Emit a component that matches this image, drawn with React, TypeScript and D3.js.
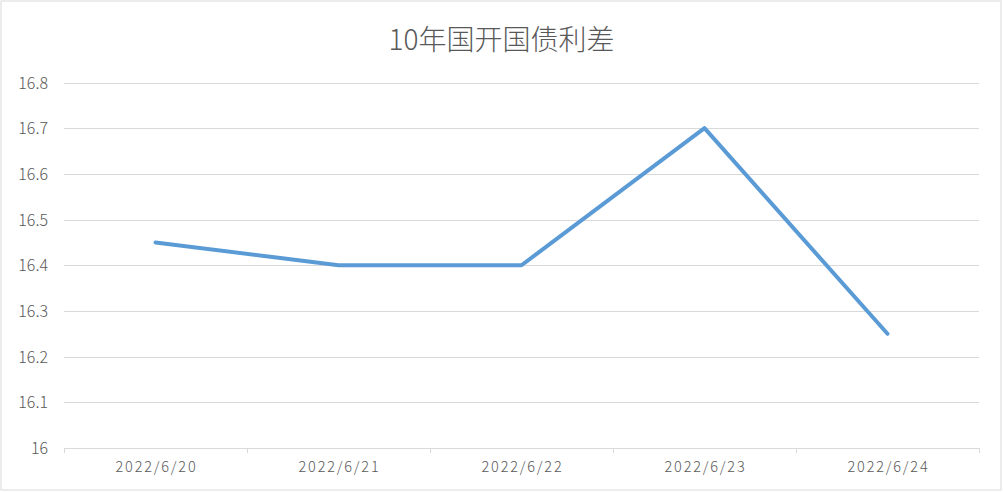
import React from "react";
import * as d3 from "d3";

const categories = ["2022/6/20", "2022/6/21", "2022/6/22", "2022/6/23", "2022/6/24"];
const values = [16.45, 16.4, 16.4, 16.7, 16.25];
const yTicks = [16, 16.1, 16.2, 16.3, 16.4, 16.5, 16.6, 16.7, 16.8];
const title = "10年国开国债利差";

const W = 1003;
const H = 492;
const left = 64;
const right = 979;
const top = 82.5;
const bottom = 448;
const font = "'Noto Sans CJK SC', 'Noto Sans', sans-serif";

export default function App() {
  const x = d3.scaleBand<string>().domain(categories).range([left, right]).padding(0);
  const y = d3.scaleLinear().domain([16, 16.8]).range([bottom, top]);
  const line = d3
    .line<number>()
    .x((_, i) => (x(categories[i]) as number) + x.bandwidth() / 2)
    .y((d) => y(d));
  const boundaries = [...categories.map((c) => x(c) as number), right];
  return (
    <svg width={W} height={H} style={{ position: "absolute", left: 0, top: 0 }}>
      <rect x={0} y={0} width={W} height={H} fill="#fff" />
      <rect x={1} y={1} width={W - 3} height={H - 3} fill="none" stroke="#d9d9d9" strokeWidth={1} />
      <text x={W / 2} y={50} textAnchor="middle" fontSize={28} fontWeight={300} fill="#595959" fontFamily={font}>
        {title}
      </text>
      {yTicks.map((t) => (
        <g key={t}>
          {t !== 16 && (
            <line x1={left} x2={right} y1={Math.round(y(t)) + 0.5} y2={Math.round(y(t)) + 0.5} stroke="#d9d9d9" strokeWidth={1} />
          )}
          <text x={48} y={y(t) + 6} textAnchor="end" fontSize={16} fontWeight={300} fill="#595959" fontFamily={font}>
            {String(t)}
          </text>
        </g>
      ))}
      <line x1={left} x2={right} y1={bottom + 0.5} y2={bottom + 0.5} stroke="#d9d9d9" strokeWidth={1} />
      {boundaries.map((b, i) => (
        <line key={i} x1={Math.round(b) + 0.5} x2={Math.round(b) + 0.5} y1={bottom} y2={bottom + 5} stroke="#d9d9d9" strokeWidth={1} />
      ))}
      {categories.map((c) => (
        <text
          key={c}
          x={(x(c) as number) + x.bandwidth() / 2 + 1}
          y={472}
          textAnchor="middle"
          fontSize={14.5}
          fontWeight={300}
          letterSpacing={1.8}
          fill="#595959"
          fontFamily={font}
        >
          {c}
        </text>
      ))}
      <path d={line(values) || ""} fill="none" stroke="#5B9BD5" strokeWidth={4} strokeLinejoin="round" strokeLinecap="round" />
    </svg>
  );
}
